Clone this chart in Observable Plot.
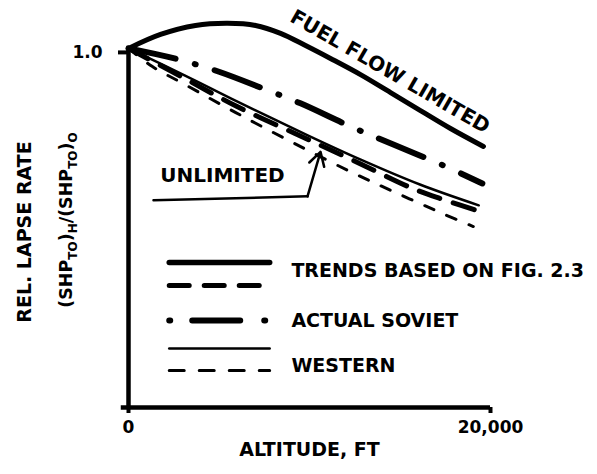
<!DOCTYPE html>
<html>
<head>
<meta charset="utf-8">
<script src="https://cdn.jsdelivr.net/npm/d3@7"></script>
<script src="https://cdn.jsdelivr.net/npm/@observablehq/plot@0.6"></script>
<style>
  html, body { margin: 0; padding: 0; background: #fff; }
  #chart svg { display: block; }
</style>
</head>
<body>
<div id="chart"></div>
<script>
// ---- Data ----
const altitudeTicks = [0, 20000];
const lapseTicks = [1.0];

// Fuel-flow-limited trend (thick solid)
const fuelFlowAlt  = [0, 1770, 3700, 5470, 7020, 8400, 9780, 11160, 12820, 14480, 16130, 17790, 19610];
const fuelFlowRate = [1.000, 1.039, 1.064, 1.070, 1.064, 1.042, 1.008, 0.972, 0.927, 0.877, 0.827, 0.777, 0.727];

// Actual Soviet (thick dash-dot)
const sovietAlt  = [0, 2700, 5000, 7500, 9500, 12250, 14600, 17400, 19550];
const sovietRate = [1.000, 0.970, 0.935, 0.887, 0.847, 0.783, 0.733, 0.674, 0.624];

// Unlimited trend (thick dashed)
const trendUnlimAlt  = [0, 2900, 6000, 9200, 12300, 15700, 17400, 19600];
const trendUnlimRate = [1.000, 0.922, 0.838, 0.763, 0.691, 0.610, 0.579, 0.543];

// Western (thin solid)
const westSolidAlt  = [0, 2900, 5650, 9900, 12800, 16100, 19350];
const westSolidRate = [1.000, 0.930, 0.861, 0.758, 0.691, 0.621, 0.563];

// Western (thin dashed)
const westDashAlt  = [0, 1300, 3100, 5900, 8950, 12250, 15000, 17450, 19050];
const westDashRate = [1.000, 0.950, 0.900, 0.822, 0.741, 0.657, 0.593, 0.538, 0.504];

const legendLabels = ["TRENDS BASED ON FIG. 2.3", "ACTUAL SOVIET", "WESTERN"];
const curveLabels = ["FUEL FLOW LIMITED", "UNLIMITED"];

// ---- Build tables ----
const zipSeries = (xs, ys) => xs.map((x, i) => ({alt: x, rate: ys[i]}));
const fuelFlow = zipSeries(fuelFlowAlt, fuelFlowRate);
const soviet = zipSeries(sovietAlt, sovietRate);
const trendUnlim = zipSeries(trendUnlimAlt, trendUnlimRate);
const westSolid = zipSeries(westSolidAlt, westSolidRate);
const westDash = zipSeries(westDashAlt, westDashRate);

// Layout (annotation / legend placement in data units)
const legendX1 = 2250, legendX2 = 7800;
const legendRowY = [0.404, 0.340, 0.242, 0.164, 0.103];
const legendTextX = 9000;
const legendTextY = [0.379, 0.240, 0.117];

const styles = {
  thickSolid: {stroke: "#000", strokeWidth: 5},
  thickDash: {stroke: "#000", strokeWidth: 5, strokeDasharray: "22,14", strokeLinecap: "round"},
  dashDot: {stroke: "#000", strokeWidth: 6, strokeDasharray: "48,20,1,20", strokeLinecap: "round"},
  thinSolid: {stroke: "#000", strokeWidth: 2.5},
  thinDash: {stroke: "#000", strokeWidth: 3, strokeDasharray: "10,14", strokeLinecap: "round"}
};
const legendStyles = [
  {stroke: "#000", strokeWidth: 5.5, strokeLinecap: "round"},
  {stroke: "#000", strokeWidth: 5, strokeDasharray: "20,15", strokeLinecap: "round"},
  {stroke: "#000", strokeWidth: 6, strokeDasharray: "1,22,48,24", strokeLinecap: "round"},
  {stroke: "#000", strokeWidth: 2.5},
  {stroke: "#000", strokeWidth: 3, strokeDasharray: "15,15", strokeLinecap: "round"}
];

const marks = [];
// axes lines
marks.push(Plot.ruleX([0], {y1: 0, y2: 1, strokeWidth: 4.5}));
marks.push(Plot.ruleY([0], {x1: -400, x2: 20000, strokeWidth: 4.5}));
marks.push(Plot.axisX({ticks: altitudeTicks, tickSize: 6, tickPadding: 7, strokeWidth: 4,
  tickFormat: d3.format(","), fontSize: 17, fontWeight: "bold"}));
marks.push(Plot.axisY({ticks: lapseTicks, tickSize: 10, tickPadding: 16, strokeWidth: 4,
  tickFormat: d3.format(".1f"), fontSize: 17, fontWeight: "bold", dy: 4}));

// curves
const curve = "catmull-rom";
marks.push(Plot.line(fuelFlow, {x: "alt", y: "rate", curve, ...styles.thickSolid}));
marks.push(Plot.line(soviet, {x: "alt", y: "rate", curve, ...styles.dashDot}));
marks.push(Plot.line(trendUnlim, {x: "alt", y: "rate", curve, ...styles.thickDash}));
marks.push(Plot.line(westSolid, {x: "alt", y: "rate", curve, ...styles.thinSolid}));
marks.push(Plot.line(westDash, {x: "alt", y: "rate", curve, ...styles.thinDash}));

// legend samples
legendRowY.forEach((yy, i) => {
  marks.push(Plot.line([{alt: legendX1, rate: yy}, {alt: legendX2, rate: yy}], {x: "alt", y: "rate", ...legendStyles[i]}));
});
legendLabels.forEach((t, i) => {
  marks.push(Plot.text([t], {x: legendTextX, y: legendTextY[i], text: d => d, textAnchor: "start",
    fontSize: 19, fontWeight: "bold", fill: "#000"}));
});

// curve labels
marks.push(Plot.text([curveLabels[0]], {x: 14450, y: 0.935, text: d => d, rotate: 30,
  fontSize: 20, fontWeight: "bold", fill: "#000"}));
marks.push(Plot.text([curveLabels[1]], {x: 5194, y: 0.646, text: d => d,
  fontSize: 20, fontWeight: "bold", fill: "#000"}));
marks.push(Plot.line([{alt: 1381, rate: 0.577}, {alt: 9890, rate: 0.588}], {x: "alt", y: "rate", strokeWidth: 2.5}));
marks.push(Plot.arrow([{x1: 9890, y1: 0.588, x2: 10608, y2: 0.712}], {x1: "x1", y1: "y1", x2: "x2", y2: "y2",
  strokeWidth: 2.5, headLength: 12, bend: false}));

// x axis title
marks.push(Plot.text(["ALTITUDE, FT"], {frameAnchor: "bottom", dy: 48, text: d => d,
  fontSize: 19, fontWeight: "bold", fill: "#000"}));

const chart = Plot.plot({
  width: 597,
  height: 474,
  marginLeft: 128,
  marginRight: 107,
  marginTop: 12,
  marginBottom: 67,
  x: {domain: [0, 20000], axis: null},
  y: {domain: [0, 1.1], axis: null},
  style: {fontFamily: "'DejaVu Sans', sans-serif", background: "#fff", color: "#000", overflow: "visible"},
  marks
});

// y-axis titles (rotated, with subscripts)
const svg = d3.select(chart);
svg.append("text")
  .attr("transform", "translate(24,232) rotate(-90)")
  .attr("text-anchor", "middle")
  .attr("dy", "0.36em")
  .attr("font-size", 19)
  .attr("font-weight", "bold")
  .attr("font-family", "'DejaVu Sans', sans-serif")
  .attr("fill", "#000")
  .text("REL. LAPSE RATE");

const t2 = svg.append("text")
  .attr("transform", "translate(72,220) rotate(-90)")
  .attr("text-anchor", "middle")
  .attr("font-size", 17.5)
  .attr("font-weight", "bold")
  .attr("font-family", "'DejaVu Sans', sans-serif")
  .attr("fill", "#000");
const parts = [["(SHP", false], ["TO", true], [")", false], ["H", true], ["/(SHP", false], ["TO", true], [")", false], ["O", true]];
parts.forEach(([s, sub], i) => {
  const prevSub = i > 0 ? parts[i - 1][1] : false;
  const ts = t2.append("tspan").text(s);
  if (sub) ts.attr("font-size", 12);
  ts.attr("dy", sub && !prevSub ? 5 : (!sub && prevSub ? -5 : 0));
});

document.getElementById("chart").append(chart);
</script>
</body>
</html>
